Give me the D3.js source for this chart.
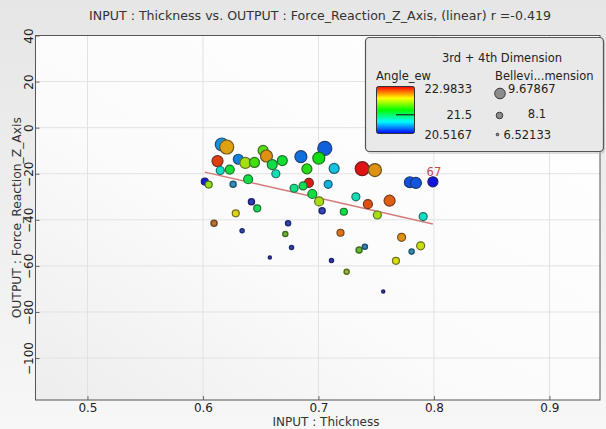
<!DOCTYPE html>
<html>
<head>
<meta charset="utf-8">
<script src="https://cdn.jsdelivr.net/npm/d3@7"></script>
<style>
  html, body { margin: 0; padding: 0; }
  body { width: 606px; height: 429px; overflow: hidden; }
  text { font-family: "DejaVu Sans", Verdana, sans-serif; fill: #222; }
</style>
</head>
<body>
<svg id="chart" width="606" height="429"></svg>
<script>
// Thickness (input), Force_Reaction_Z_Axis (output), Angle_ew (colour), Bellevi...mension (size)
const thickness = [0.6163, 0.6206, 0.6126, 0.615, 0.6232, 0.6016, 0.605, 0.6261, 0.6306, 0.6367,
  0.6446, 0.6521, 0.655, 0.66, 0.6631, 0.6687, 0.6391, 0.6848, 0.7055, 0.7003,
  0.69, 0.7136, 0.6917, 0.6867, 0.6789, 0.7084, 0.6947, 0.7006, 0.7032, 0.7324,
  0.7428, 0.7616, 0.7379, 0.7489, 0.7792, 0.7844, 0.7991, 0.722, 0.751, 0.7907,
  0.642, 0.647, 0.6284, 0.6096, 0.6339, 0.6737, 0.6713, 0.6767, 0.6579, 0.7191,
  0.772, 0.7885, 0.7807, 0.7352, 0.7402, 0.7113, 0.7671, 0.7244, 0.7561];
const force = [-7.3, -8.4, -14.5, -18.6, -18.2, -23.4, -24.7, -24.6, -13.7, -15.3,
  -15.1, -9.9, -12.3, -16.0, -20.0, -14.3, -22.4, -12.6, -9.0, -13.2,
  -17.9, -17.7, -24.0, -25.3, -26.3, -24.6, -28.8, -32.0, -36.1, -30.0,
  -33.2, -31.7, -17.8, -18.4, -23.7, -24.0, -23.5, -36.5, -37.9, -38.6,
  -32.2, -35.0, -37.2, -41.5, -44.7, -41.5, -46.2, -52.0, -56.3, -45.6,
  -47.6, -51.3, -53.8, -53.1, -51.7, -57.7, -57.8, -62.5, -71.1];
const angleEw = [20.9, 22.55, 22.85, 21.2, 21.65, 20.55, 22.15, 20.95, 20.85, 22.2,
  21.9, 21.95, 22.6, 21.6, 21.25, 21.65, 21.6, 20.8, 20.75, 21.75,
  21.8, 21.05, 22.95, 21.55, 21.4, 21.0, 21.6, 22.2, 20.6, 21.25,
  22.8, 22.75, 22.98, 22.6, 20.7, 20.72, 20.52, 21.6, 22.2, 21.2,
  20.55, 21.55, 22.4, 22.7, 20.6, 20.6, 22.0, 20.6, 20.55, 22.7,
  22.6, 22.3, 20.95, 22.0, 20.9, 20.55, 22.35, 22.2, 20.55];
const bellevi = [9.39, 9.68, 8.82, 7.96, 8.24, 7.67, 7.67, 7.38, 8.53, 8.82,
  8.53, 8.53, 9.1, 8.53, 7.96, 8.53, 8.24, 9.1, 9.68, 9.1,
  8.53, 8.53, 8.24, 7.96, 7.96, 7.96, 8.24, 8.24, 7.38, 7.96,
  8.24, 8.82, 9.68, 9.39, 8.82, 8.82, 8.53, 7.67, 7.96, 7.96,
  7.38, 7.67, 7.67, 7.38, 6.81, 7.1, 7.1, 6.81, 6.52, 7.67,
  7.96, 7.96, 7.1, 7.38, 7.1, 6.81, 7.67, 7.1, 6.52];

// point tag and linear fit end points
const tagIndex = 36;
const tagText = "67";
const fitX = [0.6015, 0.7991];
const fitY = [-19.3, -41.8];

const xTicks = [0.5, 0.6, 0.7, 0.8, 0.9];
const yTicks = [40, 20, 0, -20, -40, -60, -80, -100];
const angleRange = [20.5167, 22.9833];
const angleMid = 21.5;
const angleLabels = ["22.9833", "21.5", "20.5167"];
const sizeLegend = [9.67867, 8.1, 6.52133];
const sizeLegendLabels = ["9.67867", "8.1", "6.52133"];

const titleText = "INPUT : Thickness vs. OUTPUT : Force_Reaction_Z_Axis, (linear) r =-0.419";
const xTitle = "INPUT : Thickness";
const yTitle = "OUTPUT : Force_Reaction_Z_Axis";

const svg = d3.select("#chart");
const plot = { left: 35.5, right: 600, top: 35.5, bottom: 400 };

const x = d3.scaleLinear().domain([0.455, 0.9438]).range([plot.left, plot.right]);
const y = d3.scaleLinear().domain([-118.2, 40]).range([plot.bottom, plot.top]);
const r = d3.scaleLinear().domain([6.52133, 9.67867]).range([1.5, 7]);
const rLegend = d3.scaleLinear().domain([6.52133, 9.67867]).range([1.3, 5.3]);
const colour = v => {
  const t = Math.max(0, Math.min(1, (v - angleRange[0]) / (angleRange[1] - angleRange[0])));
  return d3.hsl(240 * (1 - t), 0.85, 0.47).formatHex();
};

const defs = svg.append("defs");
const bg = defs.append("linearGradient").attr("id", "bg").attr("x1", 0).attr("y1", 0).attr("x2", 0).attr("y2", 1);
bg.append("stop").attr("offset", 0).attr("stop-color", "#e6e6e6");
bg.append("stop").attr("offset", 1).attr("stop-color", "#f7f7f7");
const pg = defs.append("linearGradient").attr("id", "pg").attr("x1", 1).attr("y1", 0).attr("x2", 0).attr("y2", 1);
pg.append("stop").attr("offset", 0).attr("stop-color", "#ffffff");
pg.append("stop").attr("offset", 0.6).attr("stop-color", "#fbfbfb");
pg.append("stop").attr("offset", 1).attr("stop-color", "#ededed");
const cg = defs.append("linearGradient").attr("id", "cg").attr("x1", 0).attr("y1", 1).attr("x2", 0).attr("y2", 0);
d3.range(0, 1.0001, 0.125).forEach(t => {
  cg.append("stop").attr("offset", t).attr("stop-color", d3.hsl(240 * (1 - t), 1, 0.5).formatHex());
});

svg.append("rect").attr("width", 606).attr("height", 429).attr("fill", "url(#bg)");
svg.append("rect")
  .attr("x", plot.left).attr("y", plot.top)
  .attr("width", plot.right - plot.left).attr("height", plot.bottom - plot.top)
  .attr("fill", "url(#pg)");

// grid
svg.append("g").selectAll("line").data(xTicks).join("line")
  .attr("x1", d => x(d)).attr("x2", d => x(d))
  .attr("y1", plot.top).attr("y2", plot.bottom)
  .attr("stroke", "#e2e2e2").attr("stroke-width", 1);
svg.append("g").selectAll("line").data(yTicks).join("line")
  .attr("y1", d => y(d)).attr("y2", d => y(d))
  .attr("x1", plot.left).attr("x2", plot.right)
  .attr("stroke", "#e2e2e2").attr("stroke-width", 1);

// axes
const xAxis = svg.append("g").attr("transform", `translate(0,${plot.bottom})`)
  .call(d3.axisBottom(x).tickValues(xTicks).tickFormat(d3.format(".1f")).tickSizeInner(-4).tickSizeOuter(0).tickPadding(3));
xAxis.select(".domain").remove();
xAxis.selectAll("line").attr("stroke", "#666");
xAxis.selectAll("text").attr("font-size", 12).attr("fill", "#333").attr("font-family", "DejaVu Sans");

const yAxis = svg.append("g").attr("transform", `translate(${plot.left},0)`)
  .call(d3.axisLeft(y).tickValues(yTicks).tickFormat(d3.format("d")).tickSizeInner(-4).tickSizeOuter(0).tickPadding(0));
yAxis.select(".domain").remove();
yAxis.selectAll("line").attr("stroke", "#666");
yAxis.selectAll("text")
  .attr("font-size", 12).attr("fill", "#333").attr("font-family", "DejaVu Sans")
  .attr("x", 0).attr("dy", null)
  .attr("text-anchor", "middle")
  .attr("transform", "translate(-3,0) rotate(-90)")
  .attr("dominant-baseline", "auto");

// linear fit
svg.append("line")
  .attr("x1", x(fitX[0])).attr("y1", y(fitY[0]))
  .attr("x2", x(fitX[1])).attr("y2", y(fitY[1]))
  .attr("stroke", "#d47a7a").attr("stroke-width", 1.5);

// bubbles: outline blends the fill toward dark grey, heavier on the smallest ones
const pts = thickness.map((t, i) => ({ t, f: force[i], a: angleEw[i], b: bellevi[i] }));
svg.append("g").selectAll("circle").data(pts).join("circle")
  .attr("cx", d => x(d.t)).attr("cy", d => y(d.f)).attr("r", d => r(d.b))
  .attr("fill", d => r(d.b) < 3.5 ? d3.interpolateRgb(colour(d.a), "#777")(0.35) : colour(d.a))
  .attr("stroke", d => d3.interpolateRgb(colour(d.a), "#262626")(0.6))
  .attr("stroke-width", d => r(d.b) < 3.5 ? 1.5 : 1.2);

svg.append("text")
  .attr("x", x(thickness[tagIndex]) + 1).attr("y", y(force[tagIndex]) - 6)
  .attr("text-anchor", "middle").attr("font-size", 11.5)
  .style("fill", "#c24a4a").text(tagText);

// plot frame
svg.append("rect")
  .attr("x", plot.left).attr("y", plot.top)
  .attr("width", plot.right - plot.left).attr("height", plot.bottom - plot.top)
  .attr("fill", "none").attr("stroke", "#555").attr("stroke-width", 1);

// titles
svg.append("text").attr("x", 320).attr("y", 20).attr("text-anchor", "middle")
  .attr("font-size", 12.6).style("fill", "#333").text(titleText);
svg.append("text").attr("x", 326).attr("y", 426).attr("text-anchor", "middle")
  .attr("font-size", 12).style("fill", "#333").text(xTitle);
svg.append("text").attr("transform", `translate(21,${(plot.top + plot.bottom) / 2}) rotate(-90)`)
  .attr("text-anchor", "middle").attr("font-size", 12.3).style("fill", "#333").text(yTitle);

// legend
const lg = svg.append("g");
lg.append("rect").attr("x", 367).attr("y", 39).attr("width", 238).attr("height", 115).attr("rx", 4)
  .attr("fill", "#bbb").attr("opacity", 0.5);
lg.append("rect").attr("x", 365.5).attr("y", 37.5).attr("width", 238).attr("height", 114).attr("rx", 4)
  .attr("fill", "#e9e9e9").attr("stroke", "#555").attr("stroke-width", 1.2);
lg.append("text").attr("x", 502).attr("y", 62).attr("text-anchor", "middle").attr("font-size", 11.5)
  .text("3rd + 4th Dimension");
lg.append("text").attr("x", 376).attr("y", 80).attr("font-size", 11.5).text("Angle_ew");
lg.append("text").attr("x", 495).attr("y", 80).attr("font-size", 11.5).text("Bellevi...mension");

const cbar = d3.scaleLinear().domain(angleRange).range([133.5, 86.5]);
lg.append("rect").attr("x", 376.5).attr("y", cbar(angleRange[1])).attr("width", 38)
  .attr("height", cbar(angleRange[0]) - cbar(angleRange[1])).attr("rx", 2)
  .attr("fill", "url(#cg)").attr("stroke", "#333").attr("stroke-width", 1);
lg.append("line").attr("x1", 396).attr("x2", 414.5).attr("y1", cbar(angleMid)).attr("y2", cbar(angleMid))
  .attr("stroke", "#222").attr("stroke-width", 1.2);
const cLabels = [angleRange[1], angleMid, angleRange[0]];
lg.selectAll("text.cl").data(cLabels).join("text").attr("class", "cl")
  .attr("x", 472).attr("y", (d, i) => [92.5, 119, 138.5][i])
  .attr("text-anchor", "end").attr("font-size", 11.5)
  .text((d, i) => angleLabels[i]);

const sy = [93.5, 115.5, 134.5];
lg.selectAll("circle.sl").data(sizeLegend).join("circle").attr("class", "sl")
  .attr("cx", (d, i) => [500, 499.5, 497.5][i]).attr("cy", (d, i) => sy[i]).attr("r", d => rLegend(d))
  .attr("fill", "#8c8c8c").attr("stroke", "#3a3a3a").attr("stroke-width", 1);
lg.selectAll("text.sl").data(sizeLegendLabels).join("text").attr("class", "sl")
  .attr("x", (d, i) => [508, 537, 503.5][i]).attr("y", (d, i) => [92.5, 117.5, 138.5][i])
  .attr("text-anchor", (d, i) => i === 1 ? "middle" : "start")
  .attr("font-size", 11.5).text(d => d);
</script>
</body>
</html>
